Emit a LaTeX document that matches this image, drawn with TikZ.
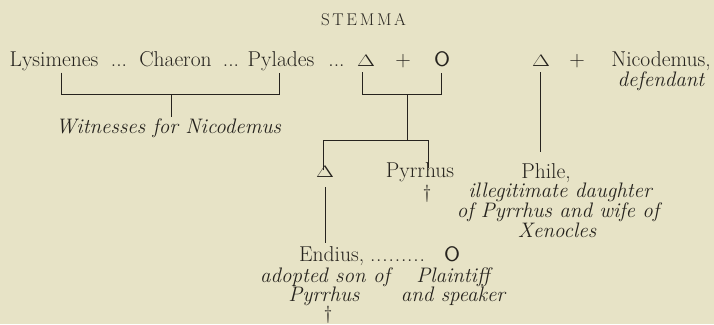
\documentclass[tikz,border=0pt]{standalone}
\usepackage{graphicx}
\usetikzlibrary{calc}
\definecolor{paper}{RGB}{231,227,198}
\definecolor{ink}{RGB}{38,35,30}
\begin{document}
\begin{tikzpicture}[x=1pt,y=-1pt,
  txt/.style={inner sep=0pt,anchor=base,text=ink,font=\fontsize{21.5}{23}\selectfont},
  itx/.style={txt,font=\fontsize{21}{23}\selectfont\itshape},
  sym/.style={txt},
  ln/.style={draw=ink,line width=1pt}]
\newcommand{\tri}{\scalebox{1.12}[0.8]{$\Delta$}}
\newcommand{\circO}{\fontsize{21}{22}\selectfont\scalebox{1.1}[1]{\textsf{O}}}
\fill[paper] (0,0) rectangle (714,324);
\useasboundingbox (0,0) rectangle (714,324);
% title
\node[txt,font=\fontsize{17}{18}\selectfont] (title) at (363.5,25)
  {\makebox[85pt][s]{S\hfill T\hfill E\hfill M\hfill M\hfill A}};
% row 1
\node[txt] (lys) at (54,66) {Lysimenes};
\node[txt] (dl1) at (119,66) {...};
\node[txt] (chae) at (175.5,66) {Chaeron};
\node[txt] (dl2) at (231,66) {...};
\node[txt] (pyl) at (281,66) {Pylades};
\node[txt] (dl3) at (336.5,66) {...};
\node[sym] (d1) at (366,66) {\tri};
\node[txt] (p1) at (403,66) {+};
\node[sym] (o1) at (442,66) {\circO};
\node[sym] (d2) at (541,66) {\tri};
\node[txt] (p2) at (577,66) {+};
\node[txt] (nic) at (661,66) {Nicodemus,};
\node[itx] (def) at (661,86) {defendant};
% witnesses
\node[itx] (wit) at (168.5,133) {Witnesses for Nicodemus};
% second generation
\node[sym] (d3) at (325,177) {\tri};
\node[txt] (pyr) at (420,177) {Pyrrhus};
\node[txt,font=\fontsize{19}{20}\selectfont] (dag1) at (427,198) {\dag};
% Phile
\node[txt] (phile) at (546,178) {Phile,};
\node[itx] (ill) at (560,197) {illegitimate daughter};
\node[itx] (ofp) at (558,217) {of Pyrrhus and wife of};
\node[itx] (xen) at (557,237) {Xenocles};
% third generation
\node[txt,anchor=base west] (endius) at (299,261) {Endius,};
\node[txt] (dots) at (397.5,261) {\makebox[55pt][s]{.\hfill.\hfill.\hfill.\hfill.\hfill.\hfill.\hfill.\hfill.}};
\node[sym] (o2) at (452,261) {\circO};
\node[itx] (ado) at (325,282) {adopted son of};
\node[itx] (pyr2) at (324,301) {Pyrrhus};
\node[txt,font=\fontsize{19}{20}\selectfont] (dag2) at (328,319) {\dag};
\node[itx] (pla) at (453,282) {Plaintiff};
\node[itx] (spk) at (453,301) {and speaker};
% bracket coordinates
\coordinate (wl) at (61,94);
\coordinate (wr) at (279,94);
\coordinate (wc) at (171,94);
\coordinate (al) at (362,94);
\coordinate (ar) at (441,94);
\coordinate (ac) at (407,94);
\coordinate (bc) at (407,140);
\coordinate (bl) at (323,140);
\coordinate (br) at (428,140);
% witnesses bracket
\draw[ln] ($(lys.south -| wl)+(0,2)$) -- (wl) -- (wr) -- ($(pyl.south -| wr)+(0,2)$);
\draw[ln] (wc) -- ($(wit.north -| wc)+(0,-1)$);
% parents bracket
\draw[ln] ([yshift=-6pt]d1.south -| al) -- (al) -- (ar) -- ([yshift=-6pt]o1.south -| ar);
\draw[ln] (ac) -- (bc);
% children bracket
\draw[ln] ([yshift=-5pt]d3.north -| bl) -- (bl) -- (br) -- ([yshift=-6pt]pyr.north -| br);
% Delta to Endius
\draw[ln] ([yshift=-10pt]d3.south) -- ([yshift=3pt]endius.north -| d3.south);
% Delta to Phile
\coordinate (pv) at (540,0);
\draw[ln] ([yshift=-6pt]d2.south -| pv) -- ([yshift=11pt]phile.north -| pv);
\end{tikzpicture}
\end{document}
